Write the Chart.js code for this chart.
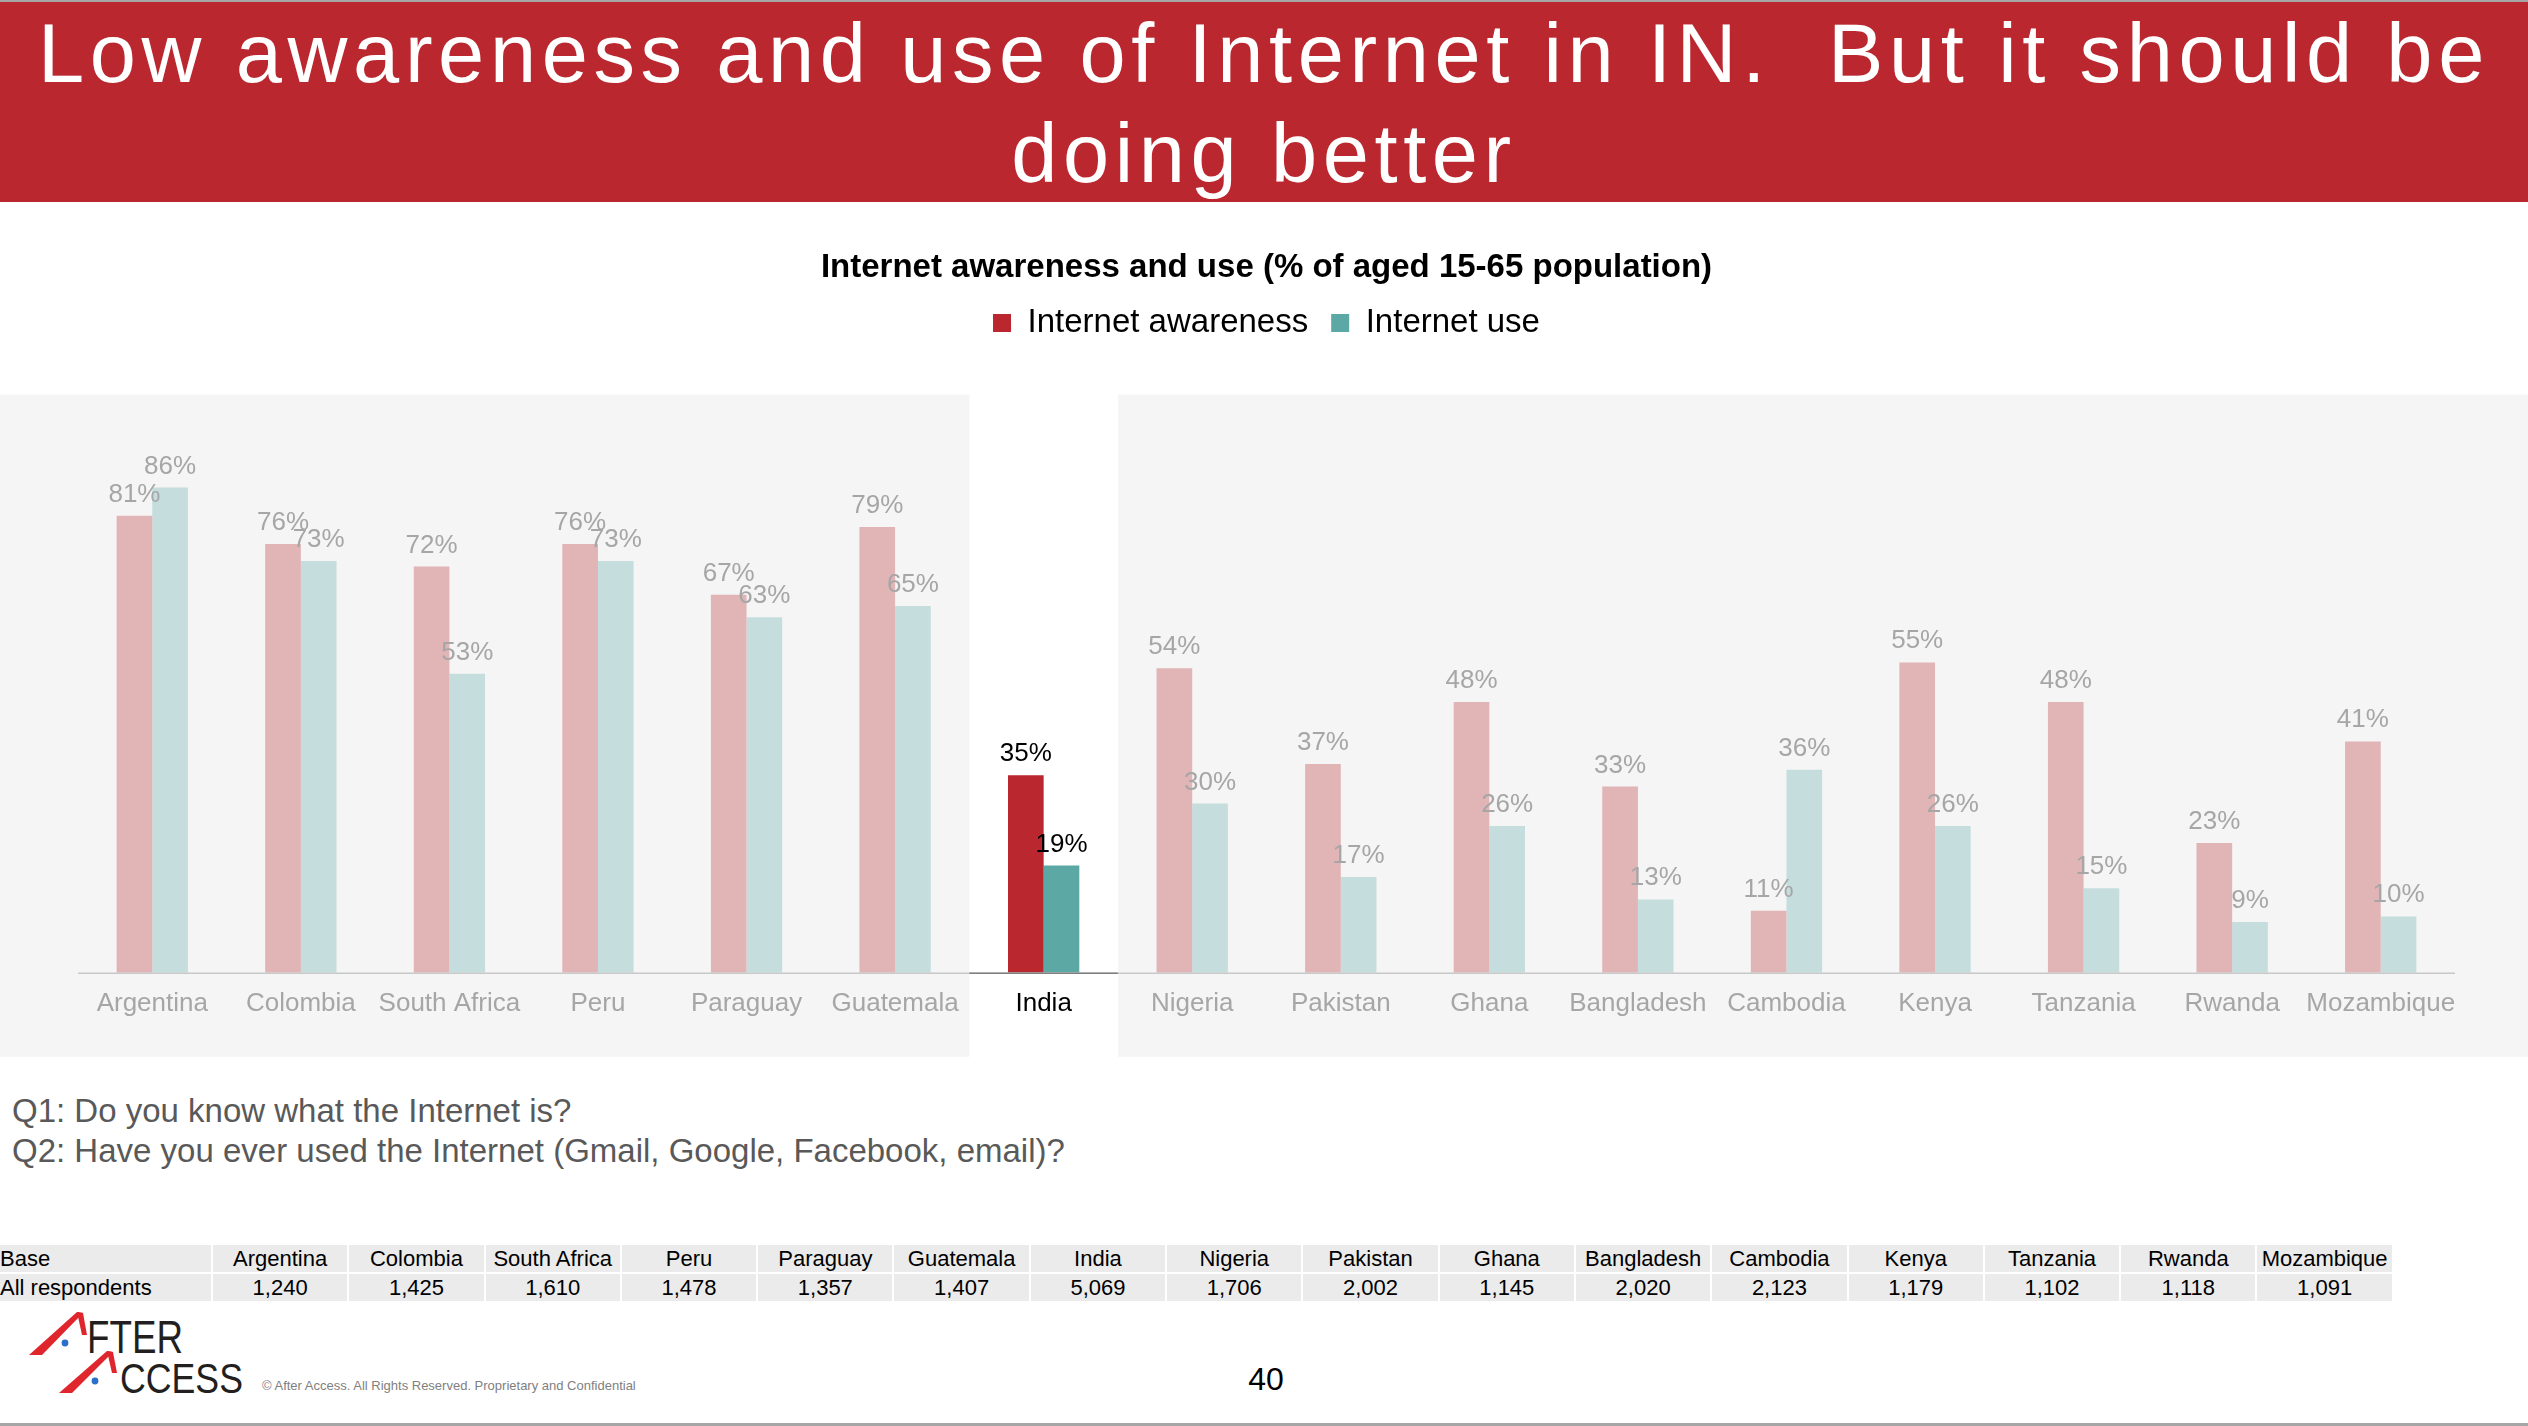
<!DOCTYPE html>
<html>
<head>
<meta charset="utf-8">
<title>Internet awareness and use</title>
<script src="https://cdn.jsdelivr.net/npm/chart.js@4.4.1/dist/chart.umd.min.js"></script>
<style>
  body { margin: 0; width: 2528px; height: 1426px; overflow: hidden; background: #fff;
         font-family: "Liberation Sans", Arial, sans-serif; position: relative; }
  #topLine { position: absolute; left: 0; top: 0; width: 2528px; height: 2px; background: #a6a6a6; }
  #banner { position: absolute; left: 0; top: 2px; width: 2528px; height: 200px; box-sizing: border-box;
            padding-top: 2px; background: #ba272e; color: #fff; font-size: 83px; line-height: 100px;
            letter-spacing: 5.6px; text-align: center; white-space: nowrap; }
  #chartBox { position: absolute; left: 0; top: 202px; width: 2528px; height: 858px; }
  #questions { position: absolute; left: 12px; top: 1091px; font-size: 33px; line-height: 40px; color: #595959; }
  #baseTable { position: absolute; left: -2px; top: 1243px; border-collapse: separate; border-spacing: 2px;
               table-layout: fixed; font-size: 22px; color: #000; }
  #baseTable td { background: #ebebeb; height: 27px; padding: 0; text-align: center; white-space: nowrap; }
  #baseTable td.first { text-align: left; width: 211px; }
  #baseTable td.cell { width: 134.3px; }
  #logo { position: absolute; left: 20px; top: 1300px; }
  #copy { position: absolute; left: 262px; top: 1378px; font-size: 13px; color: #808080; }
  #pageNo { position: absolute; left: 1226px; width: 80px; text-align: center; top: 1361px; font-size: 32px; color: #000; }
  #bottomLine { position: absolute; left: 0; top: 1423px; width: 2528px; height: 3px; background: #a6a6a6; }
</style>
</head>
<body>
<div id="topLine"></div>
<div id="banner">Low awareness and use of Internet in IN.&nbsp; But it should be<br>doing better</div>
<div id="chartBox"><canvas id="grafico"></canvas></div>
<div id="questions">Q1: Do you know what the Internet is?<br>Q2: Have you ever used the Internet (Gmail, Google, Facebook, email)?</div>
<table id="baseTable"><tbody id="baseBody"></tbody></table>
<svg id="logo" width="260" height="100" viewBox="0 0 260 100">
  <polygon points="9,55 22,55 63,13 57,12" fill="#e0262d"/>
  <polygon points="57,12 63,13 67,35 62,35" fill="#e0262d"/>
  <circle cx="45" cy="43" r="3.4" fill="#2a6fc9"/>
  <text x="67" y="53" font-family="Liberation Sans, Arial" font-size="47" fill="#231f20" textLength="96" lengthAdjust="spacingAndGlyphs">FTER</text>
  <polygon points="39,93 52,93 93,52 87,51" fill="#e0262d"/>
  <polygon points="87,51 93,52 97,73 92,73" fill="#e0262d"/>
  <circle cx="75" cy="81" r="3.4" fill="#2a6fc9"/>
  <text x="100" y="93" font-family="Liberation Sans, Arial" font-size="43" fill="#231f20" textLength="123" lengthAdjust="spacingAndGlyphs">CCESS</text>
</svg>
<div id="copy">© After Access. All Rights Reserved. Proprietary and Confidential</div>
<div id="pageNo">40</div>
<div id="bottomLine"></div>

<script>
// datos del grafico
const countries = ['Argentina', 'Colombia', 'South Africa', 'Peru', 'Paraguay', 'Guatemala', 'India',
  'Nigeria', 'Pakistan', 'Ghana', 'Bangladesh', 'Cambodia', 'Kenya', 'Tanzania', 'Rwanda', 'Mozambique'];
const awareness = [81, 76, 72, 76, 67, 79, 35, 54, 37, 48, 33, 11, 55, 48, 23, 41];
const internetUse = [86, 73, 53, 73, 63, 65, 19, 30, 17, 26, 13, 36, 26, 15, 9, 10];
const baseCounts = ['1,240', '1,425', '1,610', '1,478', '1,357', '1,407', '5,069', '1,706',
  '2,002', '1,145', '2,020', '2,123', '1,179', '1,102', '1,118', '1,091'];
const focus = 'India';

const rojo = '#ba272e', rojoClaro = '#e1b4b5';
const verde = '#5ba8a5', verdeClaro = '#c5dddd';
const gris = '#a6a6a6';

Chart.defaults.font.family = '"Liberation Sans", Arial, sans-serif';

// tabla de base
let filaBase = '<tr><td class="first">Base</td>';
let filaTotal = '<tr><td class="first">All respondents</td>';
for (let i = 0; i < countries.length; i++) {
  filaBase += '<td class="cell">' + countries[i] + '</td>';
  filaTotal += '<td class="cell">' + baseCounts[i] + '</td>';
}
document.getElementById('baseBody').innerHTML = filaBase + '</tr>' + filaTotal + '</tr>';

// fondos grises y linea del eje
const paneles = {
  id: 'paneles',
  beforeDraw(chart) {
    const { ctx, chartArea, scales: { x } } = chart;
    const i = countries.indexOf(focus);
    const half = (x.getPixelForValue(1) - x.getPixelForValue(0)) / 2;
    const cx = x.getPixelForValue(i);
    const top = chartArea.top - 14, bottom = chartArea.bottom + 84;
    ctx.save();
    ctx.fillStyle = '#f5f5f5';
    ctx.fillRect(0, top, cx - half, bottom - top);
    ctx.fillRect(cx + half, top, chart.width - cx - half, bottom - top);
    ctx.restore();
  },
  afterDatasetsDraw(chart) {
    const { ctx, chartArea, scales: { x } } = chart;
    const i = countries.indexOf(focus);
    const half = (x.getPixelForValue(1) - x.getPixelForValue(0)) / 2;
    const cx = x.getPixelForValue(i);
    const y = chartArea.bottom + 0.5;
    ctx.save();
    ctx.lineWidth = 1.5;
    ctx.strokeStyle = '#c8c8c8';
    ctx.beginPath();
    ctx.moveTo(chartArea.left, y);
    ctx.lineTo(chartArea.right, y);
    ctx.stroke();
    ctx.strokeStyle = '#7f7f7f';
    ctx.beginPath();
    ctx.moveTo(cx - half, y);
    ctx.lineTo(cx + half, y);
    ctx.stroke();
    ctx.restore();
  }
};

// etiquetas de porcentaje
const etiquetas = {
  id: 'etiquetas',
  afterDatasetsDraw(chart) {
    const ctx = chart.ctx;
    ctx.save();
    ctx.font = '26px "Liberation Sans", Arial, sans-serif';
    ctx.textAlign = 'center';
    ctx.textBaseline = 'alphabetic';
    chart.data.datasets.forEach((ds, di) => {
      chart.getDatasetMeta(di).data.forEach((bar, i) => {
        ctx.fillStyle = countries[i] === focus ? '#000' : gris;
        ctx.fillText(ds.data[i] + '%', bar.x, bar.y - 14);
      });
    });
    ctx.restore();
  }
};

// espacio extra debajo de la leyenda
const margenLeyenda = {
  id: 'margenLeyenda',
  beforeInit(chart) {
    const fit = chart.legend.fit;
    chart.legend.fit = function () {
      fit.call(this);
      this.height += 59;
    };
  }
};

const ctx = document.getElementById('grafico').getContext('2d');
new Chart(ctx, {
  type: 'bar',
  data: {
    labels: countries,
    datasets: [
      {
        label: 'Internet awareness',
        data: awareness,
        backgroundColor: countries.map(c => c === focus ? rojo : rojoClaro),
        categoryPercentage: 0.48,
        barPercentage: 1.0
      },
      {
        label: 'Internet use',
        data: internetUse,
        backgroundColor: countries.map(c => c === focus ? verde : verdeClaro),
        categoryPercentage: 0.48,
        barPercentage: 1.0
      }
    ]
  },
  options: {
    responsive: true,
    maintainAspectRatio: false,
    animation: false,
    layout: { padding: { top: 46, left: 78, right: 73, bottom: 26 } },
    plugins: {
      title: {
        display: true,
        text: 'Internet awareness and use (% of aged 15-65 population)',
        color: '#000',
        font: { size: 33, weight: 'bold' },
        padding: { top: 0, bottom: -4 }
      },
      legend: {
        display: true,
        labels: {
          color: '#000',
          font: { size: 33 },
          boxWidth: 18,
          boxHeight: 18,
          padding: 23,
          generateLabels: () => [
            { text: 'Internet awareness', fillStyle: rojo, strokeStyle: rojo, lineWidth: 0, datasetIndex: 0 },
            { text: 'Internet use', fillStyle: verde, strokeStyle: verde, lineWidth: 0, datasetIndex: 1 }
          ]
        }
      },
      tooltip: { enabled: false }
    },
    scales: {
      x: {
        grid: { display: false, drawTicks: false },
        border: { display: false },
        ticks: {
          color: c => countries[c.index] === focus ? '#000' : gris,
          font: { size: 26 },
          padding: 15,
          maxRotation: 0,
          autoSkip: false
        }
      },
      y: {
        display: false,
        min: 0,
        max: 100
      }
    }
  },
  plugins: [paneles, etiquetas, margenLeyenda]
});
</script>
</body>
</html>
